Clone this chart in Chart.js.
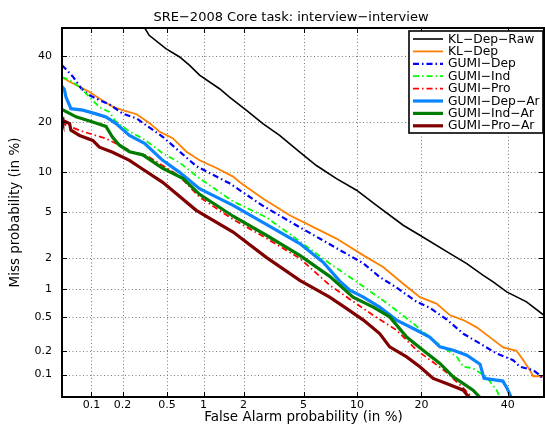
<!DOCTYPE html>
<html><head><meta charset="utf-8">
<script src="https://cdn.jsdelivr.net/npm/chart.js@4.4.0/dist/chart.umd.min.js"></script>
<style>html,body{margin:0;padding:0;background:#fff;}canvas{display:block;}</style>
</head><body>
<canvas id="c" width="545" height="425"></canvas>
<script>
// ---- text ----
const chartTitle = 'SRE\u22122008 Core task: interview\u2212interview';
const xAxisTitle = 'False Alarm probability (in %)';
const yAxisTitle = 'Miss probability (in %)';
// ---- ticks (percent) ----
const tickValues = [0.1, 0.2, 0.5, 1, 2, 5, 10, 20, 40];
const tickLabels = ['0.1', '0.2', '0.5', '1', '2', '5', '10', '20', '40'];
const axisMin = 0.05, axisMax = 50;
// ---- series: false alarm % / miss % ----
const faKLDepRaw   = [0.32, 0.35, 0.49, 0.64, 0.77, 0.93, 1.33, 1.58, 2.09, 2.73, 3.53, 4.74, 5.97, 7.77, 9.96, 12.55, 16.7, 19.7, 25.9, 29.7, 33.7, 36.2, 39.7, 45.0, 50];
const missKLDepRaw = [50, 47.4, 42.7, 39.8, 37.0, 33.7, 29.4, 26.9, 23.2, 19.7, 16.9, 13.4, 11.0, 8.96, 7.40, 5.69, 3.93, 3.23, 2.21, 1.78, 1.37, 1.18, 0.93, 0.73, 0.51];

const faKLDep   = [0.05, 0.06, 0.076, 0.095, 0.12, 0.16, 0.20, 0.27, 0.353, 0.43, 0.56, 0.73, 0.93, 1.26, 1.68, 1.87, 2.73, 4.10, 5.97, 7.77, 10.8, 13.5, 16.7, 19.7, 23.0, 25.9, 28.9, 32.1, 35.4, 38.8, 42.3, 44.1, 45.9, 46.8, 50];
const missKLDep = [33, 31.6, 30.0, 28.5, 26.5, 24.2, 23.2, 22.1, 19.8, 17.8, 16.3, 13.5, 11.9, 10.6, 9.26, 8.48, 6.41, 4.75, 3.68, 3.02, 2.13, 1.65, 1.13, 0.82, 0.70, 0.52, 0.46, 0.38, 0.29, 0.22, 0.20, 0.153, 0.114, 0.095, 0.095];

const faGumiDep   = [0.05, 0.065, 0.079, 0.095, 0.12, 0.15, 0.20, 0.27, 0.46, 0.875, 1.58, 2.73, 4.51, 7.12, 10.8, 13.0, 15.6, 19.1, 21.6, 25.1, 28.9, 32.9, 37.1, 41.4, 43.2, 46.8, 48.6, 50];
const missGumiDep = [37, 33.2, 29.5, 27.5, 26.0, 24.8, 22.3, 21.0, 16.6, 10.9, 8.31, 5.64, 3.93, 2.69, 1.79, 1.32, 1.03, 0.73, 0.63, 0.47, 0.32, 0.245, 0.185, 0.153, 0.126, 0.114, 0.098, 0.08];

const faGumiInd   = [0.05, 0.0646, 0.0819, 0.0955, 0.12, 0.15, 0.172, 0.20, 0.232, 0.318, 0.46, 0.64, 0.93, 1.67, 2.88, 4.74, 7.12, 10.8, 14.5, 18.5, 22.3, 27.4, 28.9, 31.2, 34.5, 37.1, 38.0];
const missGumiInd = [33.1, 31.6, 29.0, 26.9, 24.0, 22.7, 20.3, 19.0, 17.8, 16.0, 13.2, 11.5, 9.0, 6.12, 4.57, 2.86, 1.79, 1.06, 0.67, 0.42, 0.27, 0.168, 0.126, 0.12, 0.093, 0.062, 0.048];

const faGumiPro   = [0.05, 0.055, 0.082, 0.139, 0.187, 0.25, 0.33, 0.46, 0.64, 0.93, 1.68, 2.88, 4.74, 7.12, 9.18, 12.1, 15.6, 19.1, 22.3, 25.1, 28.9, 31.2];
const missGumiPro = [20.3, 19.3, 17.8, 16.2, 14.8, 13.4, 12.8, 11.0, 9.3, 6.56, 4.40, 3.04, 2.0, 1.09, 0.78, 0.52, 0.352, 0.203, 0.144, 0.107, 0.066, 0.048];

const faGumiDepAr   = [0.05, 0.053, 0.055, 0.062, 0.082, 0.111, 0.139, 0.174, 0.232, 0.318, 0.46, 0.64, 0.93, 1.68, 2.88, 4.74, 6.53, 8.1, 9.18, 10.8, 13.0, 15.6, 19.1, 21.6, 23.7, 26.6, 29.7, 32.9, 33.9, 38.7, 39.8, 41.0];
const missGumiDepAr = [30.1, 29.2, 26.9, 23.6, 23.2, 22.2, 21.4, 19.7, 16.9, 15.2, 11.9, 9.9, 7.6, 5.69, 4.0, 2.73, 1.84, 1.20, 0.967, 0.82, 0.64, 0.46, 0.352, 0.293, 0.223, 0.203, 0.176, 0.136, 0.089, 0.082, 0.066, 0.048];

const faGumiIndAr   = [0.05, 0.07, 0.103, 0.139, 0.161, 0.187, 0.232, 0.307, 0.46, 0.68, 0.93, 1.68, 2.88, 4.74, 7.12, 9.55, 12.1, 14.5, 17.3, 20.3, 23.7, 26.6, 28.9, 31.2, 33.1];
const missGumiIndAr = [23.4, 21.4, 20.1, 19.0, 16.5, 14.8, 13.5, 12.9, 10.55, 9.0, 6.9, 4.66, 3.23, 2.13, 1.34, 0.82, 0.64, 0.50, 0.293, 0.203, 0.139, 0.093, 0.076, 0.062, 0.048];

const faGumiProAr   = [0.05, 0.051, 0.06, 0.062, 0.076, 0.103, 0.12, 0.161, 0.232, 0.286, 0.46, 0.875, 1.68, 2.88, 4.74, 7.12, 8.8, 10.8, 13.0, 14.5, 17.3, 19.7, 22.3, 25.1, 28.9, 30.4];
const missGumiProAr = [21.3, 20.5, 19.7, 18.1, 16.9, 15.8, 14.4, 13.4, 11.9, 10.75, 8.43, 5.2, 3.44, 2.04, 1.22, 0.82, 0.62, 0.46, 0.322, 0.223, 0.168, 0.126, 0.089, 0.076, 0.062, 0.048];

// ---- normal deviate (probit) transform for DET axes ----
function probit(p) {
  const a=[-3.969683028665376e+01,2.209460984245205e+02,-2.759285104469687e+02,1.383577518672690e+02,-3.066479806614716e+01,2.506628277459239e+00];
  const b=[-5.447609879822406e+01,1.615858368580409e+02,-1.556989798598866e+02,6.680131188771972e+01,-1.328068155288572e+01];
  const c=[-7.784894002430293e-03,-3.223964580411365e-01,-2.400758277161838e+00,-2.549732539343734e+00,4.374664141464968e+00,2.938163982698783e+00];
  const d=[7.784695709041462e-03,3.224671290700398e-01,2.445134137142996e+00,3.754408661907416e+00];
  const pl=0.02425, ph=1-pl; let q, r;
  if (p < pl) { q=Math.sqrt(-2*Math.log(p)); return (((((c[0]*q+c[1])*q+c[2])*q+c[3])*q+c[4])*q+c[5])/((((d[0]*q+d[1])*q+d[2])*q+d[3])*q+1); }
  if (p <= ph) { q=p-0.5; r=q*q; return (((((a[0]*r+a[1])*r+a[2])*r+a[3])*r+a[4])*r+a[5])*q/(((((b[0]*r+b[1])*r+b[2])*r+b[3])*r+b[4])*r+1); }
  q=Math.sqrt(-2*Math.log(1-p)); return -(((((c[0]*q+c[1])*q+c[2])*q+c[3])*q+c[4])*q+c[5])/((((d[0]*q+d[1])*q+d[2])*q+d[3])*q+1);
}
const P = v => probit(v / 100);

const DD = [6, 3, 1.5, 3];
const series = [
  { name: 'KL\u2212Dep\u2212Raw',   fa: faKLDepRaw,  miss: missKLDepRaw,  color: '#000000', width: 1.6, dash: [] },
  { name: 'KL\u2212Dep',            fa: faKLDep,     miss: missKLDep,     color: '#ff8000', width: 1.8, dash: [] },
  { name: 'GUMI\u2212Dep',          fa: faGumiDep,   miss: missGumiDep,   color: '#0000ff', width: 2.2, dash: DD },
  { name: 'GUMI\u2212Ind',          fa: faGumiInd,   miss: missGumiInd,   color: '#00ff00', width: 1.8, dash: DD },
  { name: 'GUMI\u2212Pro',          fa: faGumiPro,   miss: missGumiPro,   color: '#ff0000', width: 1.8, dash: DD },
  { name: 'GUMI\u2212Dep\u2212Ar',  fa: faGumiDepAr, miss: missGumiDepAr, color: '#0a84ff', width: 3.2, dash: [] },
  { name: 'GUMI\u2212Ind\u2212Ar',  fa: faGumiIndAr, miss: missGumiIndAr, color: '#007d00', width: 3.2, dash: [] },
  { name: 'GUMI\u2212Pro\u2212Ar',  fa: faGumiProAr, miss: missGumiProAr, color: '#800000', width: 3.2, dash: [] }
];

const FONT = 'DejaVu Sans';

function gridPath(ctx, chart, inset) {
  const { chartArea: ca, scales } = chart;
  tickValues.forEach(v => {
    const px = Math.round(scales.x.getPixelForValue(P(v))) + 0.5;
    const py = Math.round(scales.y.getPixelForValue(P(v))) + 0.5;
    if (inset) {
      ctx.moveTo(px, ca.bottom); ctx.lineTo(px, ca.bottom - inset);
      ctx.moveTo(px, ca.top); ctx.lineTo(px, ca.top + inset);
      ctx.moveTo(ca.left, py); ctx.lineTo(ca.left + inset, py);
      ctx.moveTo(ca.right - 1, py); ctx.lineTo(ca.right - 1 - inset, py);
    } else {
      ctx.moveTo(px, ca.top); ctx.lineTo(px, ca.bottom);
      ctx.moveTo(ca.left, py); ctx.lineTo(ca.right, py);
    }
  });
}

const framePlugin = {
  id: 'frame',
  beforeDatasetsDraw(chart) {
    const ctx = chart.ctx;
    ctx.save();
    ctx.strokeStyle = '#7a7a7a';
    ctx.lineWidth = 1;
    ctx.setLineDash([1, 2.5]);
    ctx.beginPath();
    gridPath(ctx, chart, 0);
    ctx.stroke();
    ctx.restore();
  },
  afterDatasetsDraw(chart) {
    const { ctx, chartArea: ca } = chart;
    ctx.save();
    ctx.setLineDash([]);
    ctx.strokeStyle = '#000000';
    ctx.lineWidth = 1;
    ctx.beginPath();
    gridPath(ctx, chart, 5);
    ctx.stroke();
    ctx.lineWidth = 2;
    ctx.strokeRect(ca.left, ca.top, ca.right - ca.left - 1, ca.bottom - ca.top);
    // legend box
    const bx = 409, by = 31, bw = 134, bh = 102;
    ctx.fillStyle = '#fff';
    ctx.fillRect(bx, by, bw, bh);
    ctx.lineWidth = 1.6;
    ctx.strokeRect(bx, by, bw, bh);
    ctx.font = '12.3px "' + FONT + '"';
    ctx.textBaseline = 'middle';
    ctx.textAlign = 'left';
    series.forEach((s, i) => {
      const y = by + 8 + i * 12.4;
      ctx.beginPath();
      ctx.strokeStyle = s.color;
      ctx.lineWidth = s.width;
      ctx.setLineDash(s.dash);
      ctx.moveTo(bx + 4, y); ctx.lineTo(bx + 34, y);
      ctx.stroke();
      ctx.setLineDash([]);
      ctx.fillStyle = '#000';
      ctx.fillText(s.name, bx + 39, y + 0.5);
    });
    // title
    ctx.font = '13px "' + FONT + '"';
    ctx.textAlign = 'center';
    ctx.textBaseline = 'alphabetic';
    ctx.fillStyle = '#000';
    ctx.fillText(chartTitle, 291, 20.5);
    ctx.restore();
  }
};

new Chart(document.getElementById('c'), {
  type: 'line',
  data: {
    datasets: series.map((s, i) => ({
      label: s.name,
      data: s.fa.map((f, k) => ({ x: P(f), y: P(s.miss[k]) })),
      borderColor: s.color,
      borderWidth: s.width,
      borderDash: s.dash,
      pointRadius: 0,
      fill: false,
      tension: 0,
      order: series.length - i
    }))
  },
  options: {
    responsive: false,
    animation: false,
    events: [],
    layout: { padding: { top: 28, right: 0, left: 0, bottom: 0 } },
    plugins: { legend: { display: false }, tooltip: { enabled: false }, title: { display: false } },
    scales: {
      x: {
        type: 'linear', min: P(axisMin), max: P(axisMax),
        afterBuildTicks: s => { s.ticks = tickValues.map(v => ({ value: P(v) })); },
        afterFit: s => { s.height = 28; },
        ticks: { callback: (v, i) => tickLabels[i], font: { family: FONT, size: 11 }, color: '#000', padding: 2, maxRotation: 0, autoSkip: false },
        grid: { display: false, drawTicks: false },
        border: { display: false },
        title: { display: true, text: xAxisTitle, color: '#000', font: { family: FONT, size: 13.5, lineHeight: 1 }, padding: { top: 0, bottom: 0.5 } }
      },
      y: {
        type: 'linear', min: P(axisMin), max: P(axisMax),
        afterBuildTicks: s => { s.ticks = tickValues.map(v => ({ value: P(v) })); },
        afterFit: s => { s.width = 62; },
        ticks: { callback: (v, i) => tickLabels[i], font: { family: FONT, size: 11 }, color: '#000', padding: 10, autoSkip: false },
        grid: { display: false, drawTicks: false },
        border: { display: false },
        title: { display: true, text: yAxisTitle, color: '#000', font: { family: FONT, size: 13.5, lineHeight: 1 }, padding: { top: 9, bottom: 0 } }
      }
    }
  },
  plugins: [framePlugin]
});
</script>
</body></html>
